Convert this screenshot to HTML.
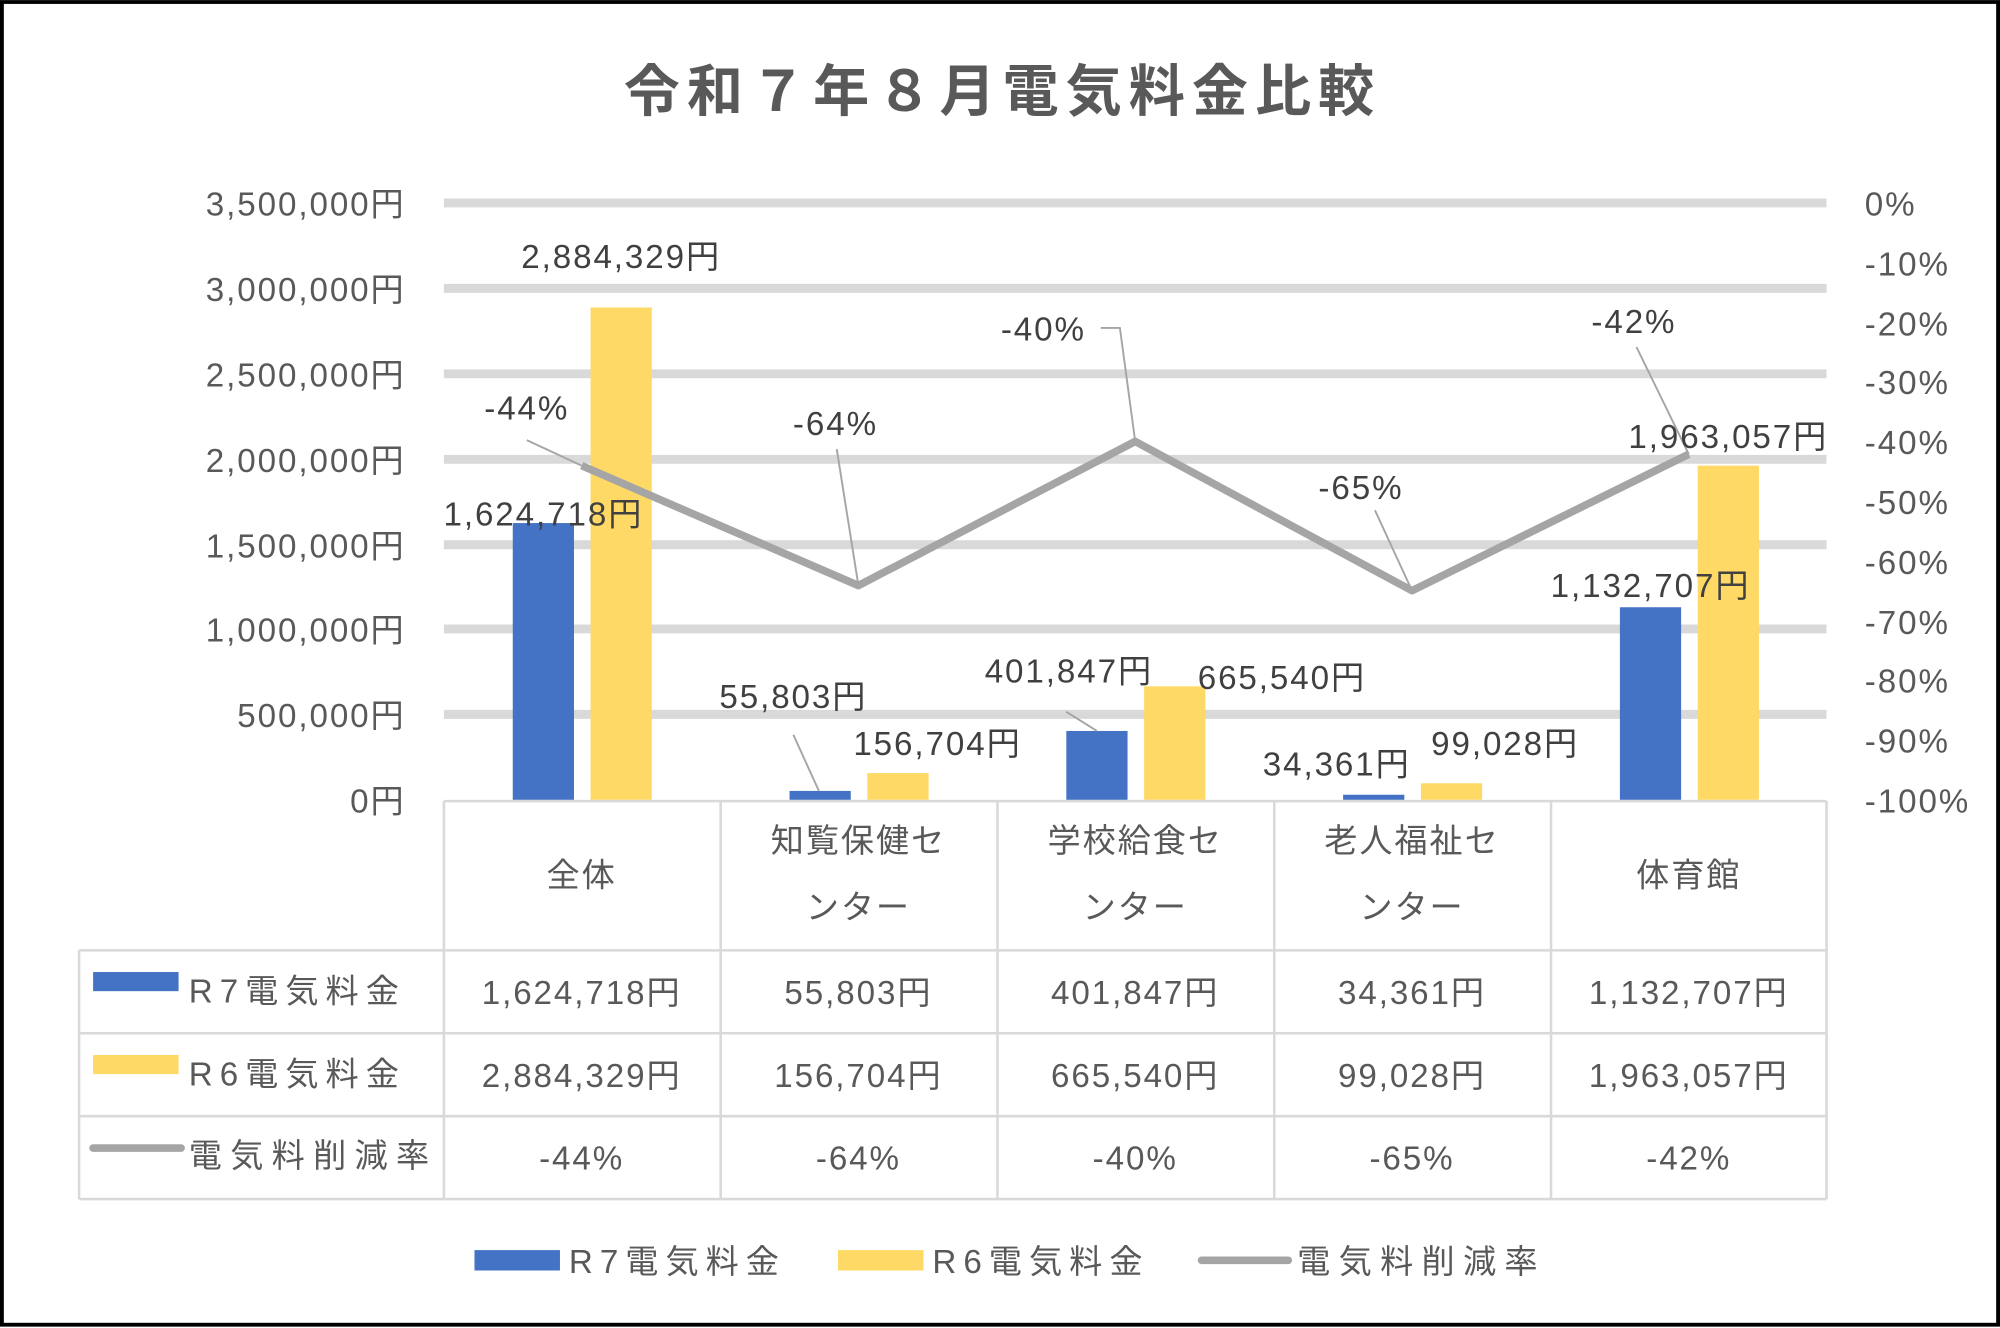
<!DOCTYPE html>
<html><head><meta charset="utf-8"><style>
html,body{margin:0;padding:0;background:#fff;}
svg{display:block;}
text{font-family:"Liberation Sans","Noto Sans CJK JP",sans-serif;letter-spacing:1.5px;}
</style></head><body>
<svg width="2000" height="1328" viewBox="0 0 1568 1041" xmlns="http://www.w3.org/2000/svg">
<rect x="1.5" y="1.5" width="1565" height="1037" fill="#fff" stroke="#000" stroke-width="3"/>
<text x="786" y="87" font-size="44" font-weight="bold" fill="#595959" text-anchor="middle" style="letter-spacing:5.5px">令和７年８月電気料金比較</text>
<g stroke="#d9d9d9" stroke-width="7">
<line x1="348" y1="159" x2="1432" y2="159"/>
<line x1="348" y1="226" x2="1432" y2="226"/>
<line x1="348" y1="293" x2="1432" y2="293"/>
<line x1="348" y1="360" x2="1432" y2="360"/>
<line x1="348" y1="427" x2="1432" y2="427"/>
<line x1="348" y1="493" x2="1432" y2="493"/>
<line x1="348" y1="560" x2="1432" y2="560"/>
</g>
<g font-size="26" fill="#595959" text-anchor="end">
<text x="318" y="169">3,500,000円</text>
<text x="318" y="236">3,000,000円</text>
<text x="318" y="303">2,500,000円</text>
<text x="318" y="370">2,000,000円</text>
<text x="318" y="437">1,500,000円</text>
<text x="318" y="503">1,000,000円</text>
<text x="318" y="570">500,000円</text>
<text x="318" y="637">0円</text>
</g>
<g font-size="26" fill="#595959">
<text x="1462" y="169">0%</text>
<text x="1462" y="216">-10%</text>
<text x="1462" y="263">-20%</text>
<text x="1462" y="309">-30%</text>
<text x="1462" y="356">-40%</text>
<text x="1462" y="403">-50%</text>
<text x="1462" y="450">-60%</text>
<text x="1462" y="497">-70%</text>
<text x="1462" y="543">-80%</text>
<text x="1462" y="590">-90%</text>
<text x="1462" y="637">-100%</text>
</g>
<g fill="#4472c4">
<rect x="402" y="410" width="48" height="217"/>
<rect x="619" y="620" width="48" height="7"/>
<rect x="836" y="573" width="48" height="54"/>
<rect x="1053" y="623" width="48" height="4"/>
<rect x="1270" y="476" width="48" height="151"/>
</g>
<g fill="#ffd966">
<rect x="463" y="241" width="48" height="386"/>
<rect x="680" y="606" width="48" height="21"/>
<rect x="897" y="538" width="48" height="89"/>
<rect x="1114" y="614" width="48" height="13"/>
<rect x="1331" y="365" width="48" height="262"/>
</g>
<polyline points="456,365 673,459 890,346 1107,463 1324,356" fill="none" stroke="#a5a5a5" stroke-width="6" stroke-linejoin="round"/>
<g stroke="#a5a5a5" stroke-width="1.5" fill="none">
<polyline points="413,345 456,365"/>
<polyline points="656,352 673,459"/>
<polyline points="863,257 878,257 890,346"/>
<polyline points="1078,400 1107,463"/>
<polyline points="1283,272 1324,356"/>
<polyline points="622,576 642,620"/>
<polyline points="836,558 860,573"/>
</g>
<g font-size="26" fill="#404040" text-anchor="middle">
<text x="413" y="329">-44%</text>
<text x="655" y="341">-64%</text>
<text x="818" y="267">-40%</text>
<text x="1067" y="391">-65%</text>
<text x="1281" y="261">-42%</text>
<text x="426" y="412">1,624,718円</text>
<text x="487" y="210">2,884,329円</text>
<text x="622" y="555">55,803円</text>
<text x="735" y="592">156,704円</text>
<text x="838" y="535">401,847円</text>
<text x="1005" y="540">665,540円</text>
<text x="1048" y="608">34,361円</text>
<text x="1180" y="592">99,028円</text>
<text x="1294" y="468">1,132,707円</text>
<text x="1355" y="351">1,963,057円</text>
</g>
<g stroke="#d9d9d9" stroke-width="2" fill="none">
<line x1="348" y1="628" x2="1432" y2="628"/>
<line x1="62" y1="745" x2="1432" y2="745"/>
<line x1="62" y1="810" x2="1432" y2="810"/>
<line x1="62" y1="875" x2="1432" y2="875"/>
<line x1="62" y1="940" x2="1432" y2="940"/>
<line x1="62" y1="745" x2="62" y2="940"/>
<line x1="348" y1="628" x2="348" y2="940"/>
<line x1="565" y1="628" x2="565" y2="940"/>
<line x1="782" y1="628" x2="782" y2="940"/>
<line x1="999" y1="628" x2="999" y2="940"/>
<line x1="1216" y1="628" x2="1216" y2="940"/>
<line x1="1432" y1="628" x2="1432" y2="940"/>
</g>
<g font-size="26" fill="#595959" text-anchor="middle">
<text x="456" y="695">全体</text>
<text x="673" y="668">知覧保健セ</text><text x="673" y="720">ンター</text>
<text x="890" y="668">学校給食セ</text><text x="890" y="720">ンター</text>
<text x="1107" y="668">老人福祉セ</text><text x="1107" y="720">ンター</text>
<text x="1324" y="695">体育館</text>
<text x="456" y="787">1,624,718円</text>
<text x="673" y="787">55,803円</text>
<text x="890" y="787">401,847円</text>
<text x="1107" y="787">34,361円</text>
<text x="1324" y="787">1,132,707円</text>
<text x="456" y="852">2,884,329円</text>
<text x="673" y="852">156,704円</text>
<text x="890" y="852">665,540円</text>
<text x="1107" y="852">99,028円</text>
<text x="1324" y="852">1,963,057円</text>
<text x="456" y="917">-44%</text>
<text x="673" y="917">-64%</text>
<text x="890" y="917">-40%</text>
<text x="1107" y="917">-65%</text>
<text x="1324" y="917">-42%</text>
</g>
<rect x="73" y="762" width="67" height="15" fill="#4472c4"/>
<rect x="73" y="827" width="67" height="15" fill="#ffd966"/>
<line x1="73" y1="900" x2="142" y2="900" stroke="#a5a5a5" stroke-width="6" stroke-linecap="round"/>
<g font-size="26" fill="#595959">
<text x="148" y="786" style="letter-spacing:5.5px">R7電気料金</text>
<text x="148" y="851" style="letter-spacing:5.5px">R6電気料金</text>
<text x="148" y="915" style="letter-spacing:6.5px">電気料削減率</text>
</g>
<rect x="372" y="980" width="67" height="16" fill="#4472c4"/>
<rect x="657" y="980" width="67" height="16" fill="#ffd966"/>
<line x1="942" y1="988" x2="1010" y2="988" stroke="#a5a5a5" stroke-width="6" stroke-linecap="round"/>
<g font-size="26" fill="#595959">
<text x="446" y="998" style="letter-spacing:5.5px">R7電気料金</text>
<text x="731" y="998" style="letter-spacing:5.5px">R6電気料金</text>
<text x="1017" y="998" style="letter-spacing:6.5px">電気料削減率</text>
</g>
</svg>
</body></html>
